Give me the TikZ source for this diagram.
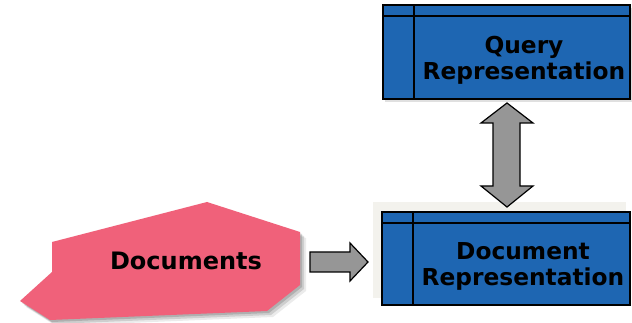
\documentclass[tikz,border=0pt]{standalone}
\usepackage{fontspec}
\setmainfont{DejaVu Sans}
\definecolor{boxblue}{RGB}{30,102,178}
\definecolor{docpink}{RGB}{240,97,122}
\definecolor{arrowgray}{RGB}{150,150,150}
\definecolor{panelgray}{RGB}{243,242,237}
\tikzset{
  box/.style={fill=boxblue, draw=black, line width=2pt},
  boxline/.style={draw=black, line width=2pt},
  blockarrow/.style={fill=arrowgray, draw=black, line width=1.2pt, line join=miter},
  label/.style={font=\bfseries\fontsize{23.3}{26.5}\selectfont, align=center, text=black, inner sep=0pt},
  shade1/.style={fill=black, opacity=0.12},
}
\begin{document}
\begin{tikzpicture}[x=1pt,y=-1pt]
\clip (0,0) rectangle (632,323);
\fill[white] (0,0) rectangle (632,323);
% light panel behind document representation
\fill[panelgray] (373,202) rectangle (626,298);
% query representation box
\fill[shade1] (385,8) rectangle (633,102);
\draw[box] (383,5) rectangle (630,99);
\draw[boxline] (383,16) -- (630,16);
\draw[boxline] (414,5) -- (414,99);
\node[label] (query) at (524,60.5) {Query\\Representation};
% document representation box
\draw[box] (382,212) rectangle (630,305);
\draw[boxline] (382,223) -- (630,223);
\draw[boxline] (413,212) -- (413,305);
\node[label] (docrep) at (523,266.5) {Document\\Representation};
% documents shape with shadow
\foreach \d/\o in {6/0.08,4/0.12,2/0.15}{
  \fill[black, opacity=\o, shift={(\d,\d)}] (52,242) -- (207,202) -- (300,232) -- (300,285) -- (267,311) -- (50,320) -- (20,301) -- (52,272) -- cycle;
}
\fill[docpink] (52,242) -- (207,202) -- (300,232) -- (300,285) -- (267,311) -- (50,320) -- (20,301) -- (52,272) -- cycle;
\node[label, font=\bfseries\fontsize{24}{27}\selectfont] (docs) at (186,261) {Documents};
% right block arrow
\draw[blockarrow] (310,252) -- (350,252) -- (350,243) -- (368,262) -- (350,281) -- (350,272) -- (310,272) -- cycle;
% double block arrow
\draw[blockarrow] (507,103) -- (533,123) -- (520,123) -- (520,186) -- (533,186) -- (507,207) -- (481,186) -- (493,186) -- (493,123) -- (481,123) -- cycle;
\end{tikzpicture}
\end{document}
